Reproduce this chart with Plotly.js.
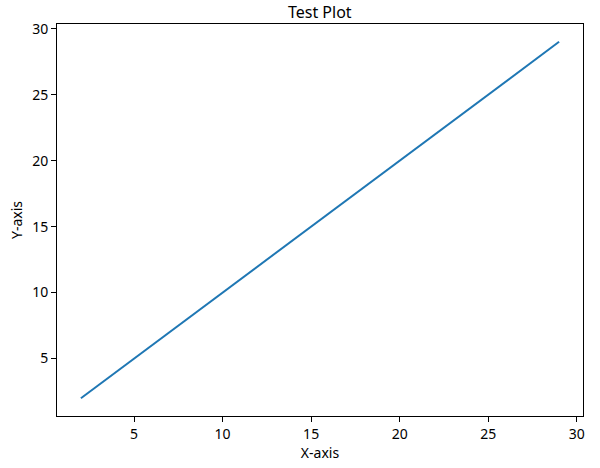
<!DOCTYPE html>
<html>
<head>
<meta charset="utf-8">
<script src="https://cdn.plot.ly/plotly-3.0.1.min.js"></script>
<style>html,body{margin:0;padding:0;background:#fff;}#chart{width:600px;height:468px;}</style>
</head>
<body>
<div id="chart"></div>
<script>
const xValues = [2, 3, 4, 5, 6, 7, 8, 9, 10, 11, 12, 13, 14, 15, 16, 17, 18, 19, 20, 21, 22, 23, 24, 25, 26, 27, 28, 29];
const yValues = [2, 3, 4, 5, 6, 7, 8, 9, 10, 11, 12, 13, 14, 15, 16, 17, 18, 19, 20, 21, 22, 23, 24, 25, 26, 27, 28, 29];
const xTicks = [5, 10, 15, 20, 25, 30];
const yTicks = [5, 10, 15, 20, 25, 30];

const font = {family: 'Noto Sans, sans-serif', size: 14, color: '#000'};
const axisCommon = {
  showgrid: false, zeroline: false, showline: true, mirror: true,
  linecolor: '#000', linewidth: 1, ticks: 'outside', ticklen: 5, tickwidth: 1,
  tickcolor: '#000', tickfont: font, tickmode: 'array'
};
Plotly.newPlot('chart', [{
  x: xValues, y: yValues, type: 'scatter', mode: 'lines',
  line: {color: '#1f77b4', width: 2}
}], {
  width: 600, height: 468,
  margin: {l: 57, r: 17, t: 24, b: 52},
  paper_bgcolor: '#fff', plot_bgcolor: '#fff',
  showlegend: false,
  font: font,
  title: {text: 'Test Plot', font: {family: 'Noto Sans, sans-serif', size: 16, color: '#000'},
          x: 0.533, xanchor: 'center', yref: 'container', y: 1 - 12/468, yanchor: 'middle'},
  xaxis: Object.assign({}, axisCommon, {range: [0.65, 30.35], tickvals: xTicks,
    title: {text: 'X-axis', font: font, standoff: 4}}),
  yaxis: Object.assign({}, axisCommon, {range: [0.65, 30.35], tickvals: yTicks,
    title: {text: 'Y-axis', font: font, standoff: 6}})
}, {displayModeBar: false, staticPlot: true});
</script>
</body>
</html>
